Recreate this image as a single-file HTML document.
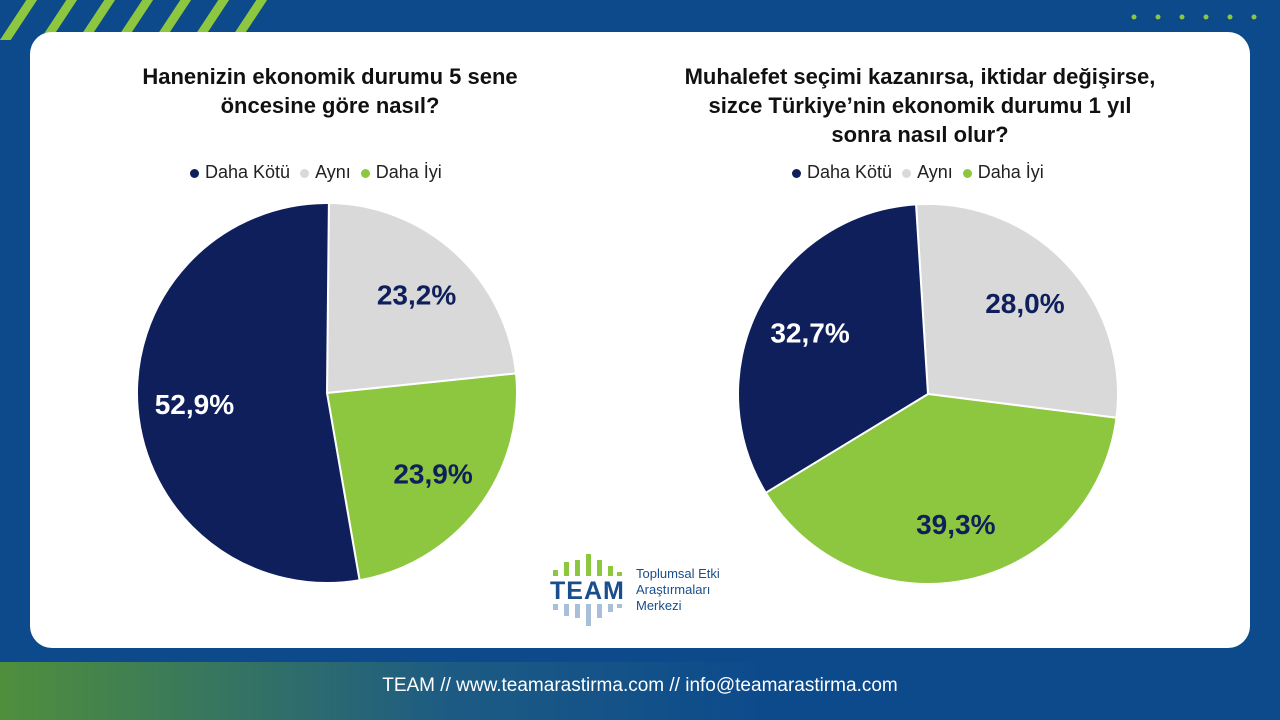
<!DOCTYPE html>
<html><head><meta charset="utf-8"><style>
body{margin:0;width:1280px;height:720px;overflow:hidden;font-family:"Liberation Sans",sans-serif;background:#0c4a8c;position:relative}
.card{position:absolute;left:30px;top:32px;width:1220px;height:616px;background:#fff;border-radius:22px}
.footer{position:absolute;left:0;top:662px;width:1280px;height:58px;background:linear-gradient(90deg,#4f8f3c 0%,#1d5b84 35%,#0c4a8c 60%,#0c4a8c 100%);color:#fff;font-size:19px;text-align:center;line-height:48px}
.title{position:absolute;font-weight:bold;font-size:22px;color:#111;text-align:center;line-height:29px}
.legend{position:absolute;font-size:18px;color:#222;display:flex;gap:10px;align-items:center}
.legend span.sw{display:inline-block;width:9px;height:9px;border-radius:50%;margin-right:6px}
</style></head><body>
<svg width="300" height="40" style="position:absolute;left:0;top:0">
<g stroke="#8dc63f" stroke-width="9">
<line x1="0" y1="48" x2="35" y2="-5"/><line x1="40" y1="48" x2="75" y2="-5"/><line x1="78" y1="48" x2="113" y2="-5"/><line x1="116" y1="48" x2="151" y2="-5"/><line x1="154" y1="48" x2="189" y2="-5"/><line x1="192" y1="48" x2="227" y2="-5"/><line x1="230" y1="48" x2="265" y2="-5"/></g></svg>
<svg width="150" height="30" style="position:absolute;left:1120px;top:8px"><g fill="#8dc63f">
<circle cx="14" cy="9" r="2.5"/><circle cx="38" cy="9" r="2.5"/><circle cx="62" cy="9" r="2.5"/><circle cx="86" cy="9" r="2.5"/><circle cx="110" cy="9" r="2.5"/><circle cx="134" cy="9" r="2.5"/></g></svg>
<div class="card"></div>
<div class="title" style="left:90px;top:62px;width:480px">Hanenizin ekonomik durumu 5 sene<br>öncesine göre nasıl?</div>
<div class="title" style="left:620px;top:62px;width:600px">Muhalefet seçimi kazanırsa, iktidar değişirse,<br>sizce Türkiye’nin ekonomik durumu 1 yıl<br>sonra nasıl olur?</div>
<div class="legend" style="left:190px;top:162px">
<div><span class="sw" style="background:#0e1f5c"></span>Daha Kötü</div>
<div><span class="sw" style="background:#d9d9d9"></span>Aynı</div>
<div><span class="sw" style="background:#8dc63f"></span>Daha İyi</div></div>
<div class="legend" style="left:792px;top:162px">
<div><span class="sw" style="background:#0e1f5c"></span>Daha Kötü</div>
<div><span class="sw" style="background:#d9d9d9"></span>Aynı</div>
<div><span class="sw" style="background:#8dc63f"></span>Daha İyi</div></div>
<svg id="pies" width="1280" height="720" style="position:absolute;left:0;top:0"></svg>
<div style="position:absolute;left:550px;top:552px;width:200px;height:78px">
<svg width="80" height="78" style="position:absolute;left:0;top:0">
<g fill="#8dc63f"><rect x="3" y="18" width="5" height="6"/><rect x="14" y="10" width="5" height="14"/><rect x="25" y="8" width="5" height="16"/><rect x="36" y="2" width="5" height="22"/><rect x="47" y="8" width="5" height="16"/><rect x="58" y="14" width="5" height="10"/><rect x="67" y="20" width="5" height="4"/></g>
<text x="0" y="47" font-size="25" font-weight="bold" fill="#1a4d8c" font-family="Liberation Sans" letter-spacing="1">TEAM</text>
<g fill="#a9bfd9"><rect x="3" y="52" width="5" height="6"/><rect x="14" y="52" width="5" height="12"/><rect x="25" y="52" width="5" height="14"/><rect x="36" y="52" width="5" height="22"/><rect x="47" y="52" width="5" height="14"/><rect x="58" y="52" width="5" height="8"/><rect x="67" y="52" width="5" height="4"/></g></svg>
<div style="position:absolute;left:86px;top:14px;font-size:13px;line-height:16px;color:#1a4d8c">Toplumsal Etki<br>Araştırmaları<br>Merkezi</div></div>
<div class="footer">TEAM // www.teamarastirma.com // info@teamarastirma.com</div>
<script>
const categories=["Aynı","Daha İyi","Daha Kötü"];
const leftValues=[23.2,23.9,52.9];
const rightValues=[28.0,39.3,32.7];
const colors=["#d9d9d9","#8dc63f","#0e1f5c"];
const labelColors=["#0e1f5c","#0e1f5c","#ffffff"];
const svg=document.getElementById('pies');
const NS="http://www.w3.org/2000/svg";
function pt(cx,cy,r,a){return [cx+r*Math.sin(a),cy-r*Math.cos(a)];}
function drawPie(vals,cx,cy,r,start,name){
  const tot=vals.reduce((a,b)=>a+b,0);let a0=start;
  vals.forEach((v,i)=>{
    const a1=a0+v/tot*2*Math.PI;
    const p0=pt(cx,cy,r,a0),p1=pt(cx,cy,r,a1);
    const path=document.createElementNS(NS,'path');
    path.setAttribute('d',`M${cx},${cy}L${p0[0]},${p0[1]}A${r},${r} 0 ${a1-a0>Math.PI?1:0} 1 ${p1[0]},${p1[1]}Z`);
    path.setAttribute('fill',colors[i]);path.setAttribute('stroke','#fff');path.setAttribute('stroke-width','2');
    
    
    svg.appendChild(path);
    const m=(a0+a1)/2,lp=pt(cx,cy,r*0.7,m);
    const t=document.createElementNS(NS,'text');
    t.setAttribute('x',lp[0]);t.setAttribute('y',lp[1]+10);t.setAttribute('text-anchor','middle');
    t.setAttribute('font-size','28');t.setAttribute('font-weight','bold');t.setAttribute('fill',labelColors[i]);
    t.setAttribute('font-family','Liberation Sans');
    t.textContent=v.toFixed(1).replace('.',',')+'%';
    
    
    svg.appendChild(t);
    a0=a1;
  });
}
drawPie(leftValues,327,393,190,0.01,'left-pie');
drawPie(rightValues,928,394,190,-0.063,'right-pie');
</script>
</body></html>
